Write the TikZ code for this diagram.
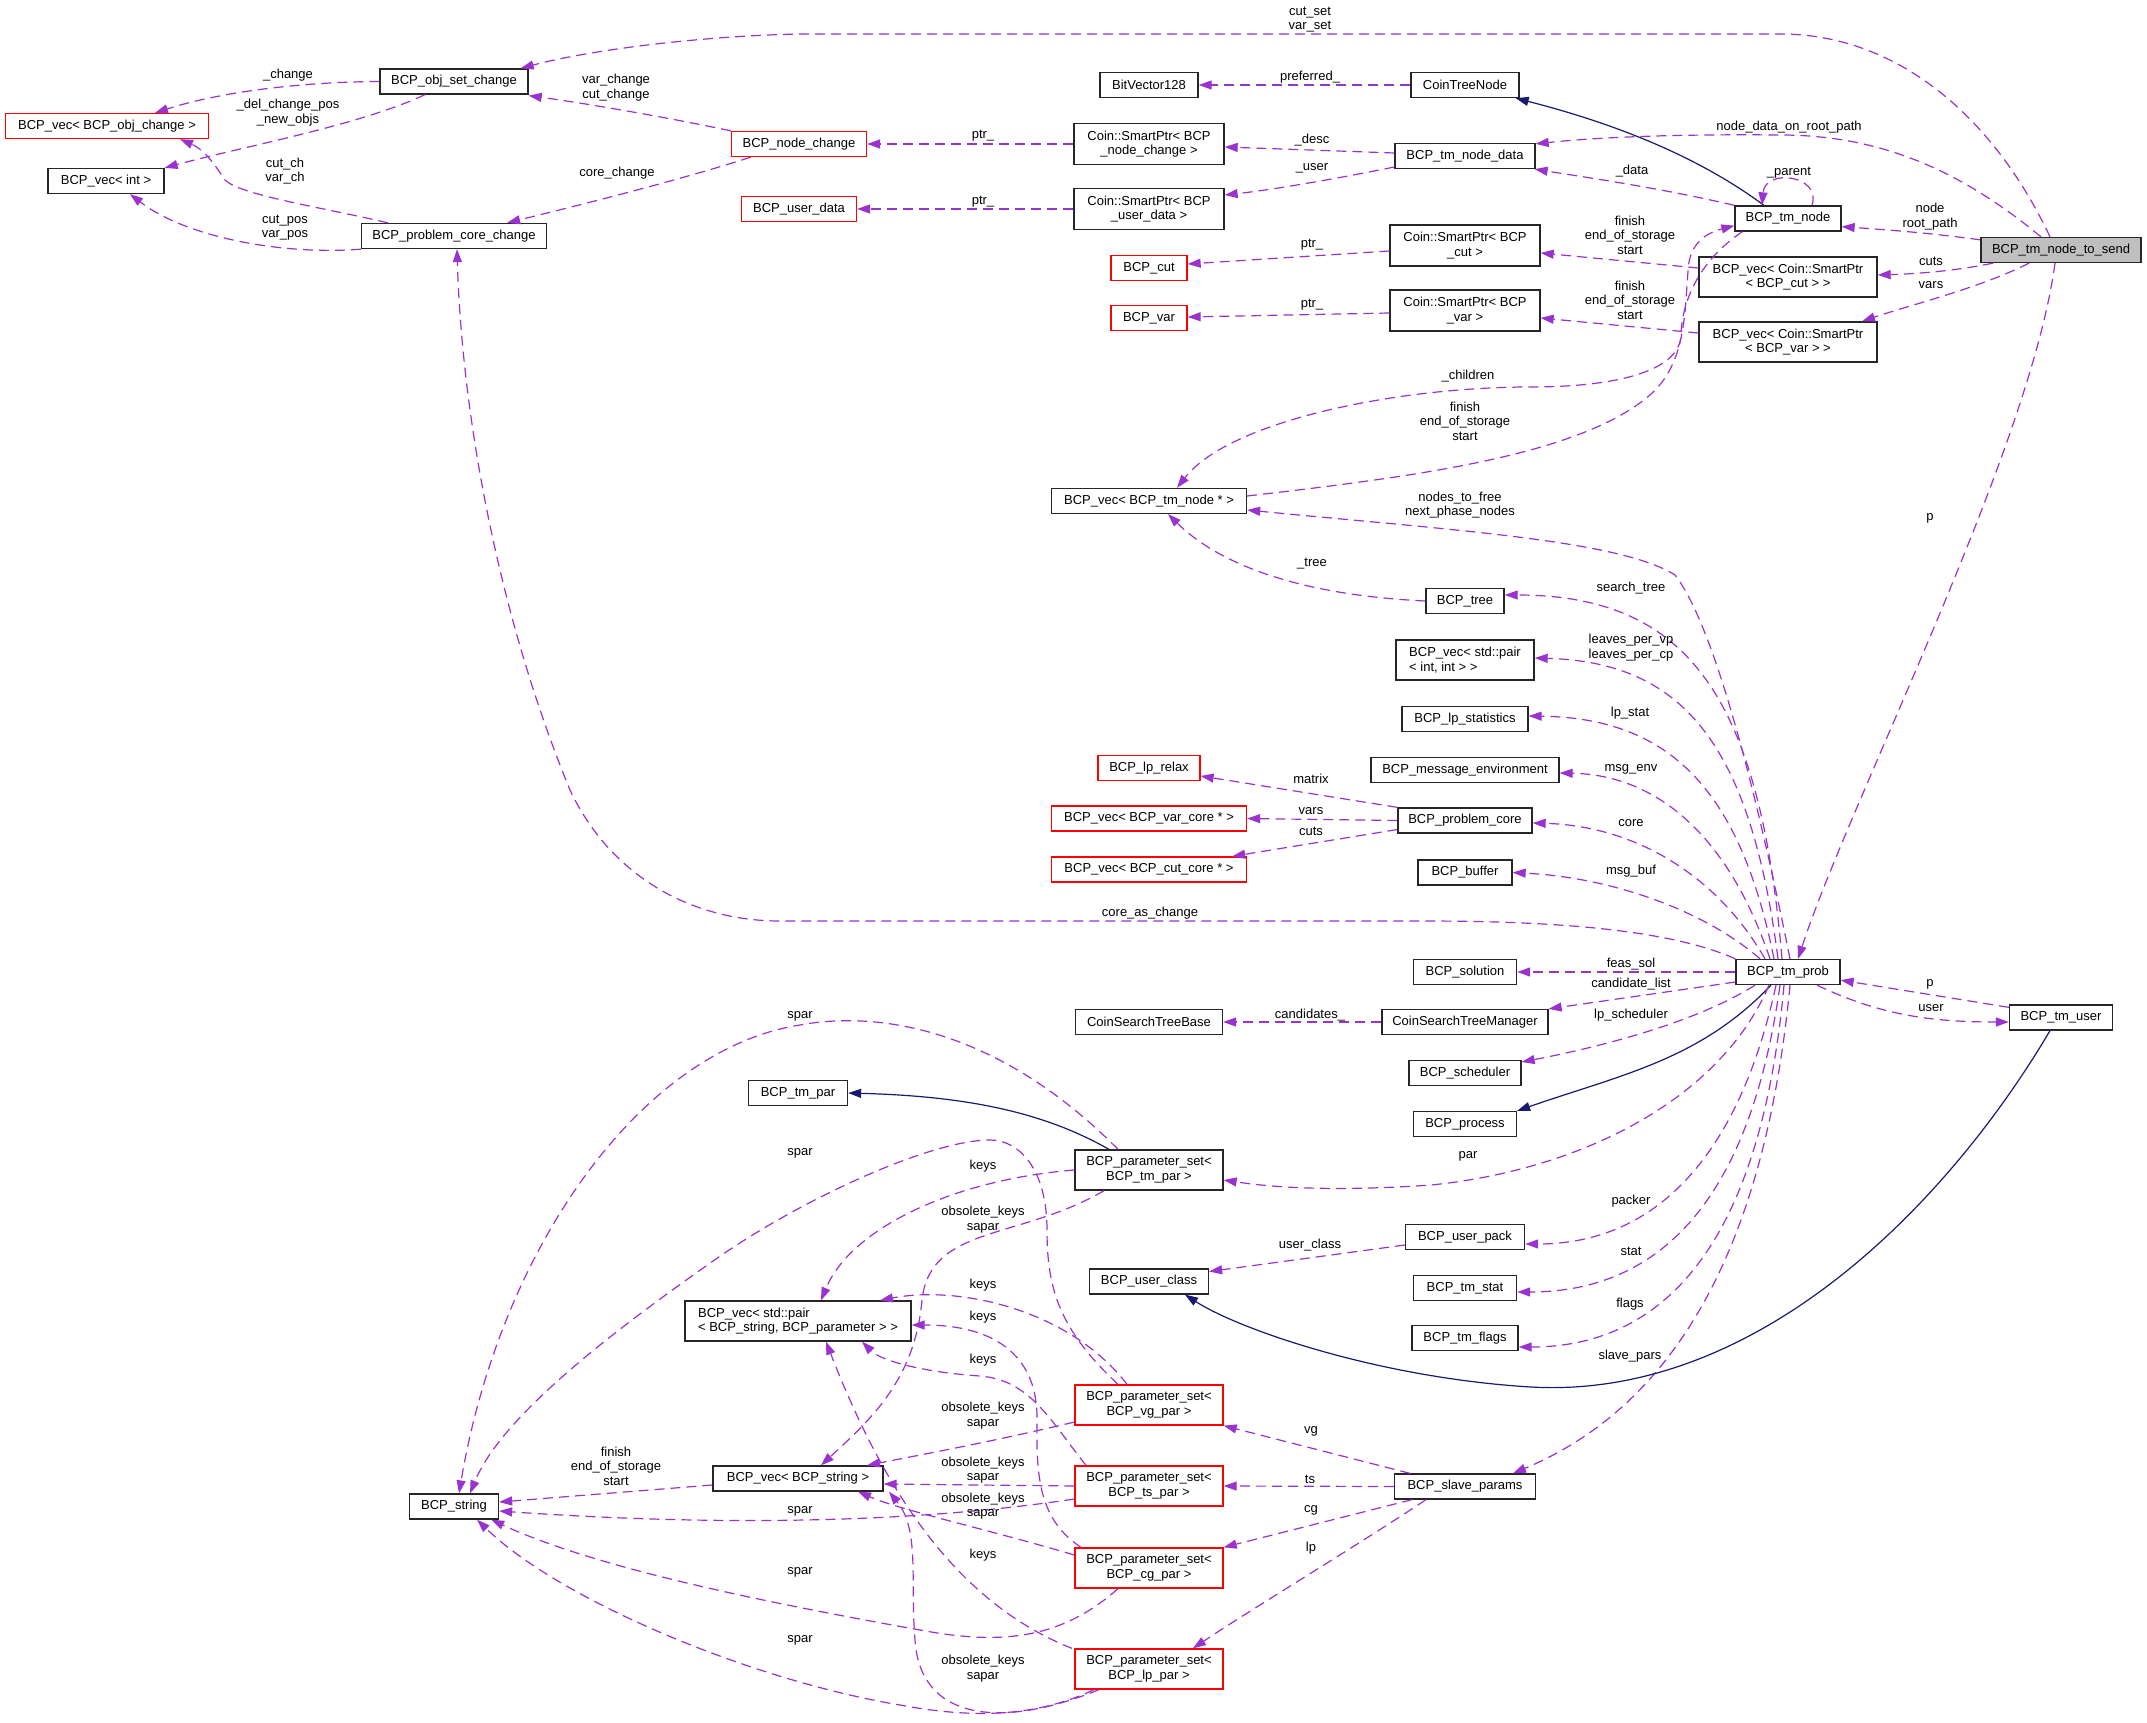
\documentclass[tikz,border=0pt]{standalone}
\usepackage{fontspec}
\setmainfont{Liberation Sans}
\usetikzlibrary{arrows.meta}
\definecolor{depc}{RGB}{154,50,205}
\definecolor{inhc}{RGB}{25,25,112}
\definecolor{redb}{RGB}{255,0,0}
\definecolor{grayf}{RGB}{191,191,191}
\tikzset{
  cls/.style={draw=black!85, line width=1.3pt, fill=white, inner sep=0pt, minimum height=25pt, align=center, font=\fontsize{13}{14.5}\selectfont},
  cls2/.style={cls, minimum height=40pt},
  undoc/.style={draw=redb},
  lab/.style={inner sep=0pt, align=center, font=\fontsize{13}{14.5}\selectfont},
  use/.style={draw=depc, line width=1.2pt, dash pattern=on 10pt off 6pt, -{Triangle[length=13pt,width=9pt]}},
  isa/.style={draw=inhc, line width=1.2pt, -{Triangle[length=13pt,width=9pt]}}
}
\begin{document}
\begin{tikzpicture}[x=1pt,y=-1pt]
\useasboundingbox (0,0) rectangle (2147,1723);
% ---- nodes
\node[cls, minimum width=148pt] (osc) at (454,81.5) {BCP\_obj\_set\_change};
\node[cls, undoc, minimum width=203pt] (voc) at (107,126) {BCP\_vec< BCP\_obj\_change >};
\node[cls, minimum width=116pt] (vint) at (106,181) {BCP\_vec< int >};
\node[cls, minimum width=185pt] (pcc) at (454,236) {BCP\_problem\_core\_change};
\node[cls, minimum width=98pt] (bv) at (1149,85) {BitVector128};
\node[cls, minimum width=108pt] (ctn) at (1465,85) {CoinTreeNode};
\node[cls, undoc, minimum width=135pt] (nch) at (799,144) {BCP\_node\_change};
\node[cls2, minimum width=150pt, minimum height=41pt] (spn) at (1149,144) {Coin::SmartPtr< BCP\\\_node\_change >};
\node[cls, undoc, minimum width=115pt] (ud) at (799,209) {BCP\_user\_data};
\node[cls2, minimum width=150pt, minimum height=41pt] (spu) at (1149,209) {Coin::SmartPtr< BCP\\\_user\_data >};
\node[cls, minimum width=140pt] (tnd) at (1465,156) {BCP\_tm\_node\_data};
\node[cls, minimum width=106pt] (tn) at (1788,218.5) {BCP\_tm\_node};
\node[cls, fill=grayf, minimum width=160pt] (send) at (2061,250) {BCP\_tm\_node\_to\_send};
\node[cls, undoc, minimum width=76pt] (cut) at (1149,268) {BCP\_cut};
\node[cls, undoc, minimum width=76pt] (var) at (1149,318) {BCP\_var};
\node[cls2, minimum width=150pt, minimum height=41pt] (spc) at (1465,245.5) {Coin::SmartPtr< BCP\\\_cut >};
\node[cls2, minimum width=150pt, minimum height=41pt] (spv) at (1465,310.5) {Coin::SmartPtr< BCP\\\_var >};
\node[cls2, minimum width=178pt] (vspc) at (1788,277) {BCP\_vec< Coin::SmartPtr\\< BCP\_cut > >};
\node[cls2, minimum width=178pt] (vspv) at (1788,342) {BCP\_vec< Coin::SmartPtr\\< BCP\_var > >};
\node[cls, minimum width=195pt] (vtn) at (1149,501) {BCP\_vec< BCP\_tm\_node * >};
\node[cls, minimum width=78pt] (tree) at (1465,601) {BCP\_tree};
\node[cls2, align=left, minimum width=138pt] (vpii) at (1465,660) {BCP\_vec< std::pair\\< int, int > >};
\node[cls, minimum width=126pt] (lps) at (1465,719) {BCP\_lp\_statistics};
\node[cls, minimum width=188pt] (me) at (1465,770) {BCP\_message\_environment};
\node[cls, undoc, minimum width=102pt] (lpr) at (1149,768) {BCP\_lp\_relax};
\node[cls, undoc, minimum width=195pt] (vvc) at (1149,818.5) {BCP\_vec< BCP\_var\_core * >};
\node[cls, minimum width=134pt] (pc) at (1465,820.5) {BCP\_problem\_core};
\node[cls, undoc, minimum width=195pt] (vcc) at (1149,869.5) {BCP\_vec< BCP\_cut\_core * >};
\node[cls, minimum width=94pt] (buf) at (1465,872.5) {BCP\_buffer};
\node[cls, minimum width=103pt] (sol) at (1465,972) {BCP\_solution};
\node[cls, minimum width=104pt] (prob) at (1788,972) {BCP\_tm\_prob};
\node[cls, minimum width=147pt] (cstb) at (1149,1022) {CoinSearchTreeBase};
\node[cls, minimum width=166pt] (cstm) at (1465,1022) {CoinSearchTreeManager};
\node[cls, minimum width=112pt] (sch) at (1465,1073) {BCP\_scheduler};
\node[cls, minimum width=103pt] (proc) at (1465,1124) {BCP\_process};
\node[cls, minimum width=103pt] (tmu) at (2061,1017.5) {BCP\_tm\_user};
\node[cls, minimum width=99pt] (tmpar) at (798,1093) {BCP\_tm\_par};
\node[cls2, minimum width=148pt] (pstm) at (1149,1170) {BCP\_parameter\_set<\\BCP\_tm\_par >};
\node[cls, minimum width=119pt] (up) at (1465,1237) {BCP\_user\_pack};
\node[cls, minimum width=119pt] (uc) at (1149,1281.5) {BCP\_user\_class};
\node[cls, minimum width=103pt] (tms) at (1465,1288) {BCP\_tm\_stat};
\node[cls, minimum width=106pt] (tmf) at (1465,1338) {BCP\_tm\_flags};
\node[cls2, align=left, minimum width=226pt] (vpsp) at (798,1321) {BCP\_vec< std::pair\\< BCP\_string, BCP\_parameter > >};
\node[cls2, undoc, minimum width=148pt] (psvg) at (1149,1405) {BCP\_parameter\_set<\\BCP\_vg\_par >};
\node[cls2, undoc, minimum width=148pt] (psts) at (1149,1486) {BCP\_parameter\_set<\\BCP\_ts\_par >};
\node[cls2, undoc, minimum width=148pt] (pscg) at (1149,1568) {BCP\_parameter\_set<\\BCP\_cg\_par >};
\node[cls2, undoc, minimum width=148pt] (pslp) at (1149,1669) {BCP\_parameter\_set<\\BCP\_lp\_par >};
\node[cls, minimum width=141pt] (slave) at (1465,1486.5) {BCP\_slave\_params};
\node[cls, minimum width=170pt] (vstr) at (798,1478.5) {BCP\_vec< BCP\_string >};
\node[cls, minimum width=89pt] (str) at (454,1506.5) {BCP\_string};
% ---- edges
\draw[use] ([xshift=-11pt]send.north) .. controls (1995,120) and (1900,34) .. (1780,34) -- (800,34) .. controls (700,36) and (590,50) .. ([xshift=-8pt]osc.north east);
\draw[use] ([xshift=-20pt]send.north) .. controls (1960,170) and (1880,135) .. (1780,135) .. controls (1680,134) and (1600,137) .. ([yshift=-1pt]tnd.north east);
\draw[isa] ([xshift=-24pt]tn.north) .. controls (1700,158) and (1620,125) .. ([xshift=-4pt]ctn.south east);
\draw[use] (tn.north west) .. controls (1660,188) and (1590,178) .. ([xshift=-1pt]tnd.south east);
\draw[use] ([xshift=24pt]tn.north) .. controls (1822,175) and (1765,168) .. ([xshift=-26pt]tn.north);
\draw[use] ([yshift=-3pt]send.north west) .. controls (1930,233) and (1890,230) .. ([yshift=5pt]tn.south east);
\draw[use] ([xshift=-68pt]send.south) .. controls (1950,272) and (1910,274) .. ([yshift=2pt]vspc.east);
\draw[use] ([xshift=-32pt]send.south) .. controls (1980,288) and (1910,305) .. ([xshift=74pt]vspv.north);
\draw[use] ([yshift=9pt]vspc.west) -- ([yshift=-7.5pt]spc.east);
\draw[use] ([yshift=9pt]vspv.west) -- ([yshift=-7.5pt]spv.east);
\draw[use] ([yshift=5pt]vtn.east) .. controls (1420,476) and (1580,455) .. (1650,395) .. controls (1690,360) and (1684,300) .. (1689,262) .. controls (1693,240) and (1710,232) .. ([yshift=6pt]tn.south west);
\draw[use] ([xshift=8pt]tn.south west) .. controls (1700,260) and (1682,300) .. (1681,335) .. controls (1680,370) and (1620,387) .. (1530,387) .. controls (1400,387) and (1230,420) .. ([xshift=28pt]vtn.north);
\draw[use] ([yshift=3pt]tnd.west) -- ([yshift=-3pt]spn.east);
\draw[use] ([yshift=-11pt]tnd.west) .. controls (1330,180) and (1270,190) .. ([yshift=14pt]spu.east);
\draw[use] (spn.west) -- (nch.east);
\draw[use] (spu.west) -- (ud.east);
\draw[use] ([yshift=-5.5pt]spc.west) -- ([yshift=4pt]cut.east);
\draw[use] ([yshift=-2.5pt]spv.west) -- ([yshift=1pt]var.east);
\draw[use] (ctn.west) -- (bv.east);
\draw[use] (nch.north west) .. controls (670,118) and (590,104) .. ([yshift=-1pt]osc.south east);
\draw[use] ([xshift=20pt]nch.south west) .. controls (680,180) and (580,205) .. ([xshift=-40pt]pcc.north east);
\draw[use] (osc.west) .. controls (300,82) and (220,92) .. ([xshift=48pt]voc.north);
\draw[use] ([xshift=-29pt]osc.south) .. controls (360,125) and (250,145) .. (vint.north east);
\draw[use] ([xshift=-66pt]pcc.north) .. controls (320,207) and (240,195) .. (225,180) .. controls (215,165) and (205,150) .. ([xshift=73pt]voc.south);
\draw[use] (pcc.south west) .. controls (290,255) and (190,240) .. ([xshift=24pt]vint.south);
\draw[use] (prob.north west) .. controls (1660,925) and (1520,921) .. (1420,921) -- (780,921) .. controls (690,921) and (610,875) .. (570,790) .. controls (500,620) and (462,420) .. ([xshift=3pt]pcc.south);
\draw[use] ([xshift=2pt]prob.north) .. controls (1750,760) and (1710,620) .. (1675,575) .. controls (1620,540) and (1450,530) .. ([yshift=-9pt]vtn.east);
\draw[use] ([xshift=-6pt]prob.north) .. controls (1760,700) and (1690,595) .. ([yshift=6pt]tree.east);
\draw[use] ([xshift=-10pt]prob.north) .. controls (1750,740) and (1680,662) .. ([yshift=2pt]vpii.east);
\draw[use] ([xshift=-14pt]prob.north) .. controls (1740,790) and (1670,718) .. ([yshift=3pt]lps.east);
\draw[use] ([xshift=-18pt]prob.north) .. controls (1730,840) and (1660,775) .. ([yshift=-3pt]me.east);
\draw[use] ([xshift=-23pt]prob.north) .. controls (1720,880) and (1640,826) .. ([yshift=-2.5pt]pc.east);
\draw[use] ([xshift=-28pt]prob.north) .. controls (1710,915) and (1620,878) .. (buf.east);
\draw[use] (prob.west) -- (sol.east);
\draw[use] ([yshift=-10pt]prob.west) -- (cstm.north east);
\draw[use] ([xshift=-33pt]prob.south) .. controls (1700,1020) and (1610,1045) .. ([yshift=11pt]sch.east);
\draw[isa] ([xshift=-17pt]prob.south) .. controls (1700,1060) and (1620,1075) .. (proc.north east);
\draw[use] ([xshift=-19pt]prob.south) .. controls (1720,1100) and (1580,1170) .. (1431,1185) .. controls (1330,1192) and (1270,1187) .. ([yshift=-10pt]pstm.east);
\draw[use] ([xshift=-12pt]prob.south) .. controls (1740,1150) and (1660,1244) .. ([yshift=-7pt]up.east);
\draw[use] ([xshift=-8pt]prob.south) .. controls (1750,1200) and (1660,1292) .. ([yshift=-4pt]tms.east);
\draw[use] ([xshift=-4pt]prob.south) .. controls (1760,1250) and (1660,1347) .. ([yshift=-9pt]tmf.east);
\draw[use] ([xshift=2pt]prob.south) .. controls (1760,1300) and (1640,1420) .. ([xshift=48pt]slave.north);
\draw[use] ([xshift=29pt]prob.south) .. controls (1880,1015) and (1930,1022) .. ([yshift=-4.5pt]tmu.west);
\draw[use] ([yshift=-3pt]tmu.north west) -- ([yshift=5pt]prob.south east);
\draw[use] ([xshift=-6pt]send.south) .. controls (2030,450) and (1850,800) .. ([xshift=10pt]prob.north);
\draw[isa] ([xshift=-11pt]tmu.south) .. controls (1950,1200) and (1760,1400) .. (1531,1387) .. controls (1380,1378) and (1240,1330) .. ([xshift=36pt]uc.south);
\draw[use] ([yshift=-8pt]up.west) -- ([yshift=10pt]uc.east);
\draw[use] (cstm.west) -- (cstb.east);
\draw[use] (pc.north west) -- ([yshift=-8pt]lpr.east);
\draw[use] (pc.west) -- (vvc.east);
\draw[use] ([yshift=-9pt]pc.west) -- ([xshift=-15pt]vcc.north east);
\draw[use] (tree.west) .. controls (1300,595) and (1220,565) .. ([xshift=19pt]vtn.south);
\draw[use] ([xshift=-55pt]slave.north) -- (psvg.south east);
\draw[use] (slave.west) -- (psts.east);
\draw[use] ([xshift=-53pt]slave.south) -- (pscg.north east);
\draw[use] ([xshift=-39pt]slave.south) .. controls (1350,1550) and (1250,1610) .. ([xshift=44pt]pslp.north);
\draw[isa] ([xshift=-40pt]pstm.north) .. controls (1040,1110) and (960,1096) .. (tmpar.east);
\draw[use] ([xshift=-31pt]pstm.north) .. controls (1000,1030) and (880,1010) .. (800,1025) .. controls (640,1050) and (500,1250) .. ([xshift=5pt]str.north);
\draw[use] (pstm.west) .. controls (950,1180) and (850,1230) .. ([xshift=23pt]vpsp.north);
\draw[use] ([xshift=-45pt]pstm.south) .. controls (1020,1240) and (930,1225) .. (922,1300) .. controls (915,1380) and (870,1420) .. ([xshift=23pt]vstr.north);
\draw[use] ([xshift=-31pt]psvg.north) .. controls (1060,1330) and (1047,1290) .. (1047,1230) .. controls (1047,1170) and (1020,1140) .. (990,1140) .. controls (930,1140) and (800,1200) .. (716,1259) .. controls (600,1340) and (500,1420) .. ([xshift=16pt]str.north);
\draw[use] ([xshift=-22pt]psvg.north) .. controls (1070,1310) and (960,1285) .. ([xshift=82pt]vpsp.north);
\draw[use] ([yshift=-17pt]psvg.west) .. controls (1000,1440) and (920,1455) .. ([xshift=69pt]vstr.north);
\draw[use] ([xshift=-63pt]psts.north) .. controls (1050,1420) and (1030,1380) .. (980,1376) .. controls (920,1372) and (880,1360) .. ([xshift=64pt]vpsp.south);
\draw[use] (psts.west) -- ([yshift=-5.5pt]vstr.east);
\draw[use] ([yshift=-13pt]psts.west) .. controls (900,1525) and (700,1525) .. ([yshift=-4.5pt]str.east);
\draw[use] ([xshift=-68pt]pscg.north) .. controls (1040,1520) and (1036,1480) .. (1037,1420) .. controls (1038,1360) and (1000,1325) .. ([yshift=-4pt]vpsp.east);
\draw[use] ([yshift=13pt]pscg.west) .. controls (990,1530) and (900,1510) .. ([xshift=60pt]vstr.south);
\draw[use] ([xshift=-31pt]pscg.south) .. controls (1060,1640) and (1000,1645) .. (920,1630) .. controls (780,1605) and (600,1570) .. ([xshift=-8pt]str.south east);
\draw[use] ([xshift=-77pt]pslp.north) .. controls (950,1600) and (880,1480) .. ([xshift=28pt]vpsp.south);
\draw[use] ([xshift=-50pt]pslp.south) .. controls (1000,1730) and (920,1720) .. (915,1640) .. controls (910,1580) and (920,1530) .. ([xshift=91pt]vstr.south);
\draw[use] ([xshift=-55pt]pslp.south) .. controls (1040,1715) and (980,1720) .. (900,1705) .. controls (750,1680) and (560,1600) .. ([xshift=23pt]str.south);
\draw[use] ([yshift=-6.5pt]vstr.west) -- ([yshift=4.5pt]str.east);
% ---- labels
\node[lab] (l1) at (1310,19.5) {cut\_set\\var\_set};
\node[lab] (l2) at (1789,127) {node\_data\_on\_root\_path};
\node[lab] (l3) at (1632,171) {\_data};
\node[lab] (l4) at (1789,173) {\_parent};
\node[lab] (l5) at (1930,216.5) {node\\root\_path};
\node[lab] (l6) at (1931,261) {cuts};
\node[lab] (l7) at (1931,285) {vars};
\node[lab] (l8) at (1630,235) {finish\\end\_of\_storage\\start};
\node[lab] (l9) at (1630,300) {finish\\end\_of\_storage\\start};
\node[lab] (l10) at (1468,376) {\_children};
\node[lab] (l11) at (1465,421) {finish\\end\_of\_storage\\start};
\node[lab] (l12) at (1312,140) {\_desc};
\node[lab] (l13) at (1312,168) {\_user};
\node[lab] (l14) at (983,136) {ptr\_};
\node[lab] (l15) at (983,202) {ptr\_};
\node[lab] (l16) at (1312,245) {ptr\_};
\node[lab] (l17) at (1312,305) {ptr\_};
\node[lab] (l18) at (1310,77) {preferred\_};
\node[lab] (l19) at (616,87.5) {var\_change\\cut\_change};
\node[lab] (l20) at (617,173) {core\_change};
\node[lab] (l21) at (288,75) {\_change};
\node[lab] (l22) at (288,112.5) {\_del\_change\_pos\\\_new\_objs};
\node[lab] (l23) at (285,171) {cut\_ch\\var\_ch};
\node[lab] (l24) at (285,227.5) {cut\_pos\\var\_pos};
\node[lab] (l25) at (1150,913) {core\_as\_change};
\node[lab] (l26) at (1460,505) {nodes\_to\_free\\next\_phase\_nodes};
\node[lab] (l27) at (1631,588) {search\_tree};
\node[lab] (l28) at (1631,647.5) {leaves\_per\_vp\\leaves\_per\_cp};
\node[lab] (l29) at (1630,713) {lp\_stat};
\node[lab] (l30) at (1631,769) {msg\_env};
\node[lab] (l31) at (1631,823) {core};
\node[lab] (l32) at (1631,871) {msg\_buf};
\node[lab] (l33) at (1631,964) {feas\_sol};
\node[lab] (l34) at (1631,984) {candidate\_list};
\node[lab] (l35) at (1631,1015) {lp\_scheduler};
\node[lab] (l36) at (1468,1156) {par};
\node[lab] (l37) at (1631,1201) {packer};
\node[lab] (l38) at (1631,1251) {stat};
\node[lab] (l39) at (1630,1304) {flags};
\node[lab] (l40) at (1630,1356) {slave\_pars};
\node[lab] (l41) at (1931,1008) {user};
\node[lab] (l42) at (1930,984) {p};
\node[lab] (l43) at (1930,518) {p};
\node[lab] (l44) at (1310,1245) {user\_class};
\node[lab] (l45) at (1310,1015) {candidates\_};
\node[lab] (l46) at (1311,779) {matrix};
\node[lab] (l47) at (1311,811) {vars};
\node[lab] (l48) at (1311,831) {cuts};
\node[lab] (l49) at (1312,564) {\_tree};
\node[lab] (l50) at (1311,1431) {vg};
\node[lab] (l51) at (1310,1479) {ts};
\node[lab] (l52) at (1311,1510) {cg};
\node[lab] (l53) at (1311,1548) {lp};
\node[lab] (l54) at (800,1016) {spar};
\node[lab] (l55) at (983,1166) {keys};
\node[lab] (l56) at (983,1219.5) {obsolete\_keys\\sapar};
\node[lab] (l57) at (800,1153) {spar};
\node[lab] (l58) at (983,1285) {keys};
\node[lab] (l59) at (983,1415.5) {obsolete\_keys\\sapar};
\node[lab] (l60) at (983,1360) {keys};
\node[lab] (l61) at (983,1470) {obsolete\_keys\\sapar};
\node[lab] (l62) at (800,1511) {spar};
\node[lab] (l63) at (983,1317) {keys};
\node[lab] (l64) at (983,1506) {obsolete\_keys\\sapar};
\node[lab] (l65) at (800,1572) {spar};
\node[lab] (l66) at (983,1555) {keys};
\node[lab] (l67) at (983,1668.5) {obsolete\_keys\\sapar};
\node[lab] (l68) at (800,1640) {spar};
\node[lab] (l69) at (616,1466) {finish\\end\_of\_storage\\start};
\end{tikzpicture}
\end{document}
